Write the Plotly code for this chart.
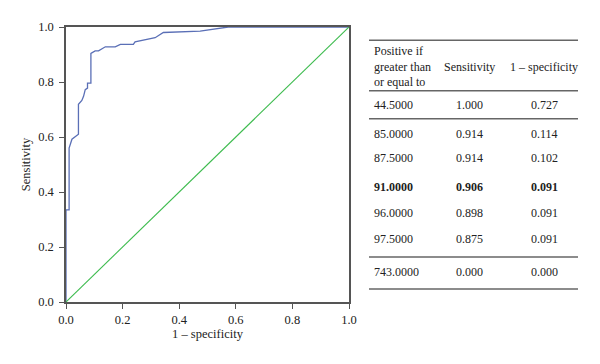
import plotly.graph_objects as go

# ROC curve data
fpr = [0.0, 0.0, 0.011, 0.011, 0.021, 0.035, 0.044, 0.044, 0.056, 0.062, 0.068, 0.076, 0.076,
       0.088, 0.088, 0.103, 0.115, 0.139, 0.174, 0.192, 0.238, 0.244, 0.280, 0.315, 0.344,
       0.474, 0.573, 1.0]
sens = [0.0, 0.335, 0.335, 0.560, 0.592, 0.605, 0.610, 0.719, 0.733, 0.748, 0.772, 0.778, 0.796,
        0.796, 0.904, 0.913, 0.913, 0.928, 0.928, 0.937, 0.937, 0.946, 0.953, 0.961, 0.980,
        0.985, 1.0, 1.0]
ref_x = [0.0, 1.0]
ref_y = [0.0, 1.0]

x_ticks = [0.0, 0.2, 0.4, 0.6, 0.8, 1.0]
y_ticks = [0.0, 0.2, 0.4, 0.6, 0.8, 1.0]

# Table data
thresholds = ["44.5000", "85.0000", "87.5000", "91.0000", "96.0000", "97.5000", "743.0000"]
tbl_sens = ["1.000", "0.914", "0.914", "0.906", "0.898", "0.875", "0.000"]
tbl_1mspec = ["0.727", "0.114", "0.102", "0.091", "0.091", "0.091", "0.000"]
bold_row = 3
headers = ["Positive if<br>greater than<br>or equal to", "Sensitivity", "1 \u2013 specificity"]

OFF = 8  # page body margin
W, H = 600 - OFF, 364 - OFF
L, R, T, B = 66 - OFF, 349 - OFF, 25 - OFF, 302 - OFF
FONT = "Liberation Serif"


def px(x):
    return (x - OFF - L) / (R - L)


def py(y):
    return (B - (y - OFF)) / (B - T)


fig = go.Figure()
fig.add_trace(go.Scatter(x=fpr, y=sens, mode="lines",
                         line=dict(color="#5a6fb6", width=1.3), showlegend=False))
fig.add_trace(go.Scatter(x=ref_x, y=ref_y, mode="lines",
                         line=dict(color="#3dbb4e", width=1.1), showlegend=False))

annotations = []
shapes = []

row_y = [103.3, 132.7, 157.3, 185.7, 212.3, 239.0, 271.7]
col1_x, col2_x, col3_x = 372, 469, 544
tf = dict(family=FONT, size=12, color="#222")
annotations.append(dict(x=px(col1_x), y=py(65), xref="paper", yref="paper", text=headers[0],
                        showarrow=False, xanchor="left", yanchor="middle", align="left", font=tf))
annotations.append(dict(x=px(col2_x), y=py(65), xref="paper", yref="paper", text=headers[1],
                        showarrow=False, xanchor="center", yanchor="middle", font=tf))
annotations.append(dict(x=px(col3_x), y=py(65), xref="paper", yref="paper", text=headers[2],
                        showarrow=False, xanchor="center", yanchor="middle", font=tf))

for i, (t, s, f) in enumerate(zip(thresholds, tbl_sens, tbl_1mspec)):
    if i == bold_row:
        t, s, f = f"<b>{t}</b>", f"<b>{s}</b>", f"<b>{f}</b>"
    yy = py(row_y[i])
    annotations.append(dict(x=px(col1_x), y=yy, xref="paper", yref="paper", text=t,
                            showarrow=False, xanchor="left", yanchor="middle", font=tf))
    annotations.append(dict(x=px(col2_x), y=yy, xref="paper", yref="paper", text=s,
                            showarrow=False, xanchor="center", yanchor="middle", font=tf))
    annotations.append(dict(x=px(col3_x), y=yy, xref="paper", yref="paper", text=f,
                            showarrow=False, xanchor="center", yanchor="middle", font=tf))

for ly in [38.3, 89.3, 117.3, 256.7, 289.0]:
    shapes.append(dict(type="line", xref="paper", yref="paper",
                       x0=px(369), x1=px(578), y0=py(ly), y1=py(ly),
                       line=dict(color="#666", width=1.5)))

axis_common = dict(range=[0, 1], showgrid=False, zeroline=False, showline=True, mirror=True,
                   linecolor="#555", linewidth=1.5, ticks="outside", ticklen=5,
                   tickcolor="#555", tickwidth=1,
                   tickfont=dict(family=FONT, size=12.5, color="#222"))

fig.update_layout(
    width=W, height=H,
    margin=dict(l=L, r=W - R, t=T, b=H - B, pad=0),
    plot_bgcolor="white", paper_bgcolor="white",
    font=dict(family=FONT, size=12, color="#222"),
    xaxis=dict(tickvals=x_ticks, ticktext=[f"{v:.1f}" for v in x_ticks], ticklabelstandoff=0,
               title=dict(text="1 \u2013 specificity", font=dict(family=FONT, size=12.5), standoff=2),
               **axis_common),
    yaxis=dict(tickvals=y_ticks, ticktext=[f"{v:.1f}" for v in y_ticks], ticklabelstandoff=3,
               title=dict(text="Sensitivity", font=dict(family=FONT, size=12.5), standoff=5),
               **axis_common),
    annotations=annotations,
    shapes=shapes,
)

fig.write_html("out.html")
